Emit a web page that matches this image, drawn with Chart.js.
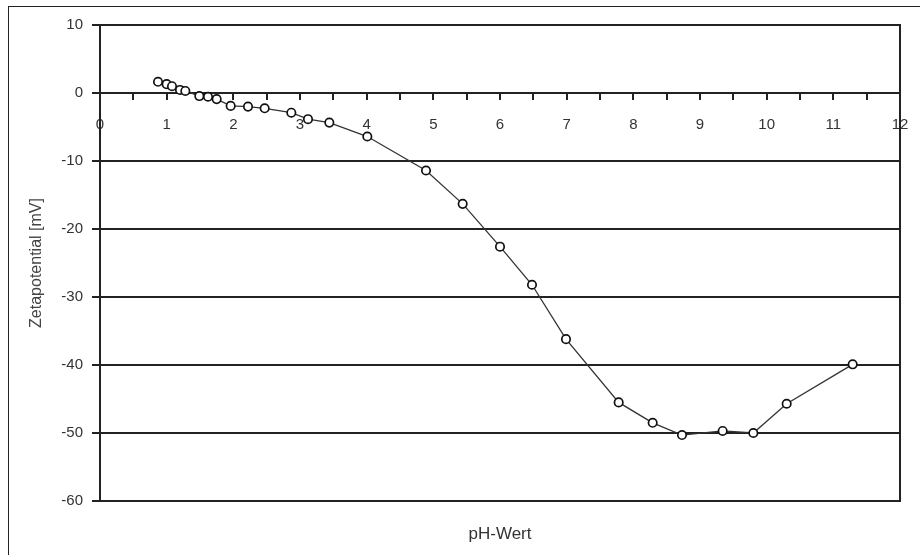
<!DOCTYPE html>
<html lang="de">
<head>
    <meta charset="UTF-8">
    <title>Zetapotential</title>
    <script src="https://cdn.jsdelivr.net/npm/chart.js@4.4.1/dist/chart.umd.min.js"></script>
    <style>
        html, body { margin: 0; padding: 0; background: #fff; overflow: hidden; }
        #frame {
            position: absolute; left: 8px; top: 6px; width: 1000px; height: 1000px;
            border-left: 1.5px solid #222; border-top: 1.5px solid #222;
            pointer-events: none;
        }
        canvas { position: absolute; left: 0; top: 0; }
    </style>
</head>
<body>
    <div id="frame"></div>
    <canvas id="zeta" width="920" height="555"></canvas>

    <script>
        // pH and measured zeta potential [mV]
        const phValues = [0.87, 1.0, 1.08, 1.2, 1.28, 1.49, 1.62, 1.75, 1.96, 2.22, 2.47, 2.87, 3.12, 3.44, 4.01,
                          4.89, 5.44, 6.0, 6.48, 6.99, 7.78, 8.29, 8.73, 9.34, 9.8, 10.3, 11.29];
        const zetaValues = [1.65, 1.3, 1.0, 0.45, 0.3, -0.45, -0.55, -0.9, -1.9, -2.0, -2.25, -2.9, -3.85, -4.35, -6.4,
                            -11.4, -16.3, -22.6, -28.2, -36.2, -45.5, -48.5, -50.3, -49.7, -50.0, -45.7, -39.9];
        const xRange = [0, 12];
        const yRange = [-60, 10];

        const points = phValues.map((x, i) => ({ x: x, y: zetaValues[i] }));
        const ink = '#222';
        const font = 'Liberation Sans, Arial, sans-serif';

        new Chart(document.getElementById('zeta'), {
            type: 'scatter',
            data: {
                datasets: [{
                    data: points,
                    showLine: true,
                    borderColor: '#333',
                    borderWidth: 1.3,
                    pointRadius: 4.2,
                    pointBorderWidth: 1.7,
                    pointBorderColor: '#111',
                    pointBackgroundColor: '#fff'
                }]
            },
            options: {
                responsive: false,
                animation: false,
                devicePixelRatio: 1,
                layout: { padding: { left: 0, top: 25, right: 20, bottom: 0 } },
                plugins: { legend: { display: false }, tooltip: { enabled: false } },
                scales: {
                    x: {
                        type: 'linear',
                        position: { y: 0 },
                        min: xRange[0], max: xRange[1],
                        grid: { drawOnChartArea: false, color: ink, lineWidth: 2, tickLength: 6 },
                        border: { color: ink, width: 2 },
                        ticks: {
                            stepSize: 0.5, maxTicksLimit: 40, autoSkip: false, maxRotation: 0,
                            padding: 17, color: '#333', font: { family: font, size: 15 },
                            callback: v => (v % 1 === 0 ? v : '')
                        },
                        afterFit: s => { s.paddingLeft = 0; s.paddingRight = 0; }
                    },
                    xb: {
                        type: 'linear',
                        position: 'bottom',
                        min: xRange[0], max: xRange[1],
                        grid: { display: false },
                        border: { display: false },
                        ticks: { display: false },
                        title: {
                            display: true, text: 'pH-Wert', color: '#333',
                            font: { family: font, size: 17 }, padding: { top: 0, bottom: 10 }
                        },
                        afterFit: s => { s.height = 54; }
                    },
                    y: {
                        min: yRange[0], max: yRange[1],
                        grid: { color: ink, lineWidth: 2, tickLength: 8 },
                        border: { color: ink, width: 2 },
                        ticks: { stepSize: 10, padding: 9, color: '#333', font: { family: font, size: 15 } },
                        title: {
                            display: true, text: 'Zetapotential [mV]', color: '#444',
                            font: { family: font, size: 16 }, padding: { top: 27, bottom: 0 }
                        },
                        afterFit: s => { s.width = 100; }
                    },
                    y2: {
                        position: 'right',
                        min: yRange[0], max: yRange[1],
                        grid: { display: false },
                        ticks: { display: false },
                        border: { display: true, color: ink, width: 2 },
                        afterFit: s => { s.width = 0; }
                    }
                }
            }
        });
    </script>
</body>
</html>
